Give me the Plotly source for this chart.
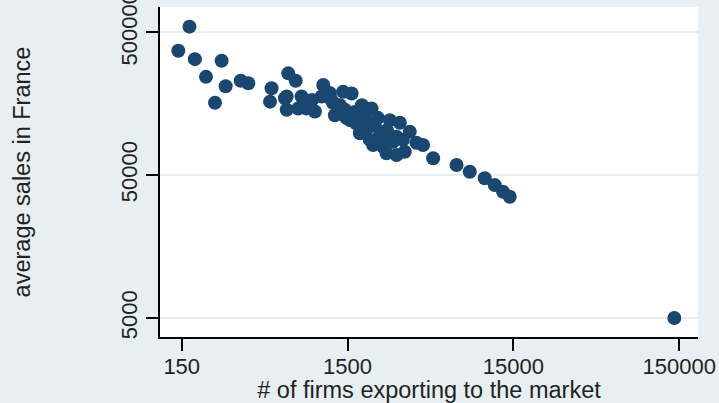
import plotly.graph_objects as go

# Number of exporting firms per destination market and average sales in France
n_firms = [
    143, 167, 180, 261, 210, 276, 238, 340, 378, 522,
    511, 658, 730, 644, 644, 792, 849, 953, 1070, 1046,
    1229, 1410, 1586, 1258, 1446, 2092, 1479, 1779, 2697, 2349,
    2823, 3556, 3318, 4276, 4920, 2139, 3098, 3230, 6810, 8180,
    10070, 11570, 12980, 14250, 140000, 1690, 1779, 2043, 2456, 2960,
    2577, 2960, 1549, 1907, 2285, 629, 756, 1201, 1829, 1660,
    1988, 2589, 2189, 2697, 1173, 914, 1349, 3900,
]
avg_sales = [
    370000, 545000, 323000, 315000, 243000, 209000, 160000, 228000, 219000, 202000,
    163000, 257000, 228000, 177000, 143000, 177000, 146000, 139000, 213000, 177000,
    159000, 191000, 186000, 131000, 143000, 146000, 125000, 112000, 121000, 95000,
    85500, 100500, 72800, 81000, 65500, 81000, 116000, 88000, 58700, 52700,
    47400, 42500, 38200, 35200, 5000, 115000, 98000, 88000, 78900, 92700,
    71000, 69000, 121000, 125500, 125500, 172000, 146000, 167000, 154000, 138000,
    107000, 103000, 112000, 88000, 187000, 167000, 154000, 84000,
]

x_ticks = [150, 1500, 15000, 150000]
y_ticks = [5000, 50000, 500000]

font_family = "Liberation Sans, Arial, sans-serif"
text_color = "#222222"

fig = go.Figure(
    go.Scatter(
        x=n_firms,
        y=avg_sales,
        mode="markers",
        marker=dict(size=14, color="#1a476f", line=dict(width=0)),
        hoverinfo="x+y",
    )
)

axis_common = dict(
    type="log",
    automargin=False,
    showline=True,
    linecolor="black",
    linewidth=1.5,
    ticks="outside",
    ticklen=12,
    tickwidth=1.5,
    tickcolor="black",
    zeroline=False,
    ticklabeloverflow="allow",
    tickfont=dict(family=font_family, size=22, color=text_color),
    title_font=dict(family=font_family, size=23.5, color=text_color),
)

fig.update_layout(
    width=719,
    height=403,
    margin=dict(l=160, r=21, t=7, b=66),
    paper_bgcolor="#e8eff2",
    plot_bgcolor="white",
    showlegend=False,
    xaxis=dict(
        axis_common,
        range=[2.045, 5.289],
        tickvals=x_ticks,
        ticktext=[str(v) for v in x_ticks],
        ticklabelstandoff=-3,
        showgrid=False,
        title=dict(text="# of firms exporting to the market", standoff=0),
    ),
    yaxis=dict(
        axis_common,
        range=[3.566, 5.874],
        tickvals=y_ticks,
        ticktext=[str(v) for v in y_ticks],
        tickangle=-90,
        showgrid=True,
        gridcolor="#e6eef1",
        gridwidth=1.5,
        title=dict(text="average sales in France", standoff=80),
    ),
)

fig.write_html("out.html")
